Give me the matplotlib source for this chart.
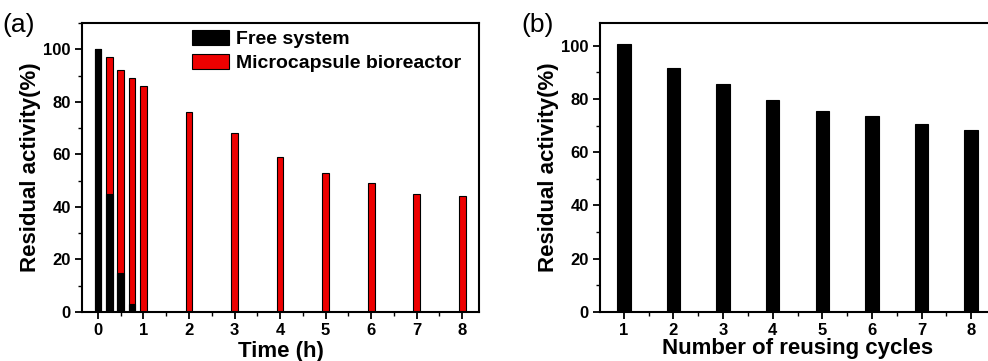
import numpy as np
import matplotlib.pyplot as plt
from matplotlib.ticker import MultipleLocator

plt.rcParams['font.family'] = ['Liberation Sans', 'DejaVu Sans']
plt.rcParams['font.weight'] = 'bold'

# (a) residual activity vs time
free_t = [0, 0.25, 0.5, 0.75]
free_act = [100, 45, 15, 3]
micro_t = [0, 0.25, 0.5, 0.75, 1, 2, 3, 4, 5, 6, 7, 8]
micro_act = [100, 97, 92, 89, 86, 76, 68, 59, 53, 49, 45, 44]

# (b) residual activity vs reuse cycles
cycles = [1, 2, 3, 4, 5, 6, 7, 8]
reuse_act = [100.5, 91.5, 85.5, 79.5, 75.5, 73.5, 70.5, 68.5]

fig = plt.figure(figsize=(9.88, 3.61), dpi=100)
W, H = 988, 361
ax1 = fig.add_axes([82 / W, 1 - 312 / H, (479 - 82) / W, (312 - 23) / H])
ax2 = fig.add_axes([600 / W, 1 - 312 / H, (996 - 600) / W, (312 - 23) / H])


def style(ax):
    for s in ax.spines.values():
        s.set_linewidth(1.5)
    ax.tick_params(which='major', direction='out', length=5, width=1.3,
                   labelsize=12, pad=3)
    ax.tick_params(which='minor', direction='out', length=3, width=1.0)
    ax.tick_params(top=False, right=False)
    for lab in ax.get_xticklabels() + ax.get_yticklabels():
        lab.set_fontweight('bold')


ax1.bar(micro_t, micro_act, width=0.15, color='#ee0000', edgecolor='black',
        linewidth=0.8, label='Microcapsule bioreactor', zorder=2)
ax1.bar(free_t, free_act, width=0.15, color='black', edgecolor='black',
        linewidth=0.8, label='Free system', zorder=3)
ax1.set_xlim(-0.35, 8.37)
ax1.set_ylim(0, 110)
ax1.xaxis.set_major_locator(MultipleLocator(1))
ax1.xaxis.set_minor_locator(MultipleLocator(0.5))
ax1.yaxis.set_major_locator(MultipleLocator(20))
ax1.yaxis.set_minor_locator(MultipleLocator(10))
ax1.set_yticks([0, 20, 40, 60, 80, 100])
ax1.set_xlabel('Time (h)', fontsize=16, fontweight='bold', labelpad=2)
ax1.set_ylabel('Residual activity(%)', fontsize=16, fontweight='bold', labelpad=2)
style(ax1)
h, l = ax1.get_legend_handles_labels()
ax1.legend(h[::-1], l[::-1], loc='upper left', bbox_to_anchor=(0.277, 0.975),
           frameon=False, handlelength=1.9, handleheight=0.8,
           handletextpad=0.35, labelspacing=0.3, borderaxespad=0, borderpad=0,
           prop={'weight': 'bold', 'size': 14})
fig.text(2 / W, 1 - 25 / H, '(a)', fontsize=19, fontweight='normal', va='center')

ax2.bar(cycles, reuse_act, width=0.27, color='black', edgecolor='black',
        linewidth=0.8, zorder=2)
ax2.set_xlim(0.52, 8.5)
ax2.set_ylim(0, 108.5)
ax2.xaxis.set_major_locator(MultipleLocator(1))
ax2.xaxis.set_minor_locator(MultipleLocator(0.5))
ax2.yaxis.set_major_locator(MultipleLocator(20))
ax2.yaxis.set_minor_locator(MultipleLocator(10))
ax2.set_yticks([0, 20, 40, 60, 80, 100])
ax2.set_xlabel('Number of reusing cycles', fontsize=16, fontweight='bold',
               labelpad=0)
ax2.set_ylabel('Residual activity(%)', fontsize=16, fontweight='bold', labelpad=2)
style(ax2)
fig.text(521 / W, 1 - 25 / H, '(b)', fontsize=19, fontweight='normal', va='center')

fig.savefig('out.png', dpi=100)
